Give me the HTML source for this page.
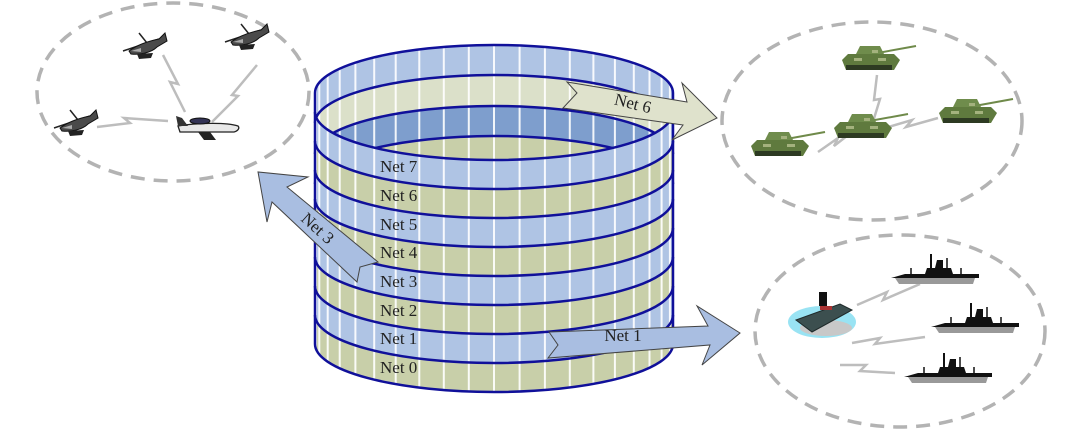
<!DOCTYPE html>
<html><head><meta charset="utf-8"><style>
html,body{margin:0;padding:0;background:#fff;}
svg{display:block;}
text{font-family:"Liberation Serif",serif;}
</style></head><body>
<svg width="1073" height="447" viewBox="0 0 1073 447" xmlns="http://www.w3.org/2000/svg">
<defs>
<clipPath id="sil"><path d="M315,93 A179,48 0 0 1 673,93 L673,344 A179,48 0 0 1 315,344 Z"/></clipPath>
<clipPath id="front"><path d="M315,112 A179,48 0 0 0 673,112 L673,344 A179,48 0 0 1 315,344 Z"/></clipPath>
<g id="stripes" stroke="#fff" stroke-width="2" opacity="0.9">
<line x1="315.9" y1="30" x2="315.9" y2="400"/>
<line x1="319.3" y1="30" x2="319.3" y2="400"/>
<line x1="327.7" y1="30" x2="327.7" y2="400"/>
<line x1="339.7" y1="30" x2="339.7" y2="400"/>
<line x1="355.4" y1="30" x2="355.4" y2="400"/>
<line x1="374.2" y1="30" x2="374.2" y2="400"/>
<line x1="395.7" y1="30" x2="395.7" y2="400"/>
<line x1="419.3" y1="30" x2="419.3" y2="400"/>
<line x1="443.8" y1="30" x2="443.8" y2="400"/>
<line x1="468.8" y1="30" x2="468.8" y2="400"/>
<line x1="494" y1="30" x2="494" y2="400"/>
<line x1="519.6" y1="30" x2="519.6" y2="400"/>
<line x1="544.9" y1="30" x2="544.9" y2="400"/>
<line x1="569.8" y1="30" x2="569.8" y2="400"/>
<line x1="593.4" y1="30" x2="593.4" y2="400"/>
<line x1="614.9" y1="30" x2="614.9" y2="400"/>
<line x1="633.8" y1="30" x2="633.8" y2="400"/>
<line x1="649.5" y1="30" x2="649.5" y2="400"/>
<line x1="661.6" y1="30" x2="661.6" y2="400"/>
<line x1="669.9" y1="30" x2="669.9" y2="400"/>
</g>
<g id="heli">
<line x1="-22" y1="6" x2="14" y2="-6" stroke="#222" stroke-width="1.5"/>
<line x1="-6" y1="-12" x2="2" y2="-2" stroke="#222" stroke-width="1.5"/>
<path d="M-16,6 C-8,0 4,-4 14,-6 L20,-12 L22,-4 L12,2 C6,8 -6,10 -14,9 Z" fill="#4a4a4a" stroke="#111" stroke-width="1"/>
<path d="M-8,9 L-6,14 L6,13 L8,8 Z" fill="#222"/>
<path d="M-14,6 L-4,3 L-4,7 Z" fill="#aaa"/>
</g>
<g id="tank">
<line x1="4" y1="-8" x2="48" y2="-16" stroke="#6f8a4a" stroke-width="2"/>
<path d="M-26,-2 L-20,-8 L26,-8 L32,-2 L26,8 L-22,8 Z" fill="#5f7a3e"/>
<path d="M-12,-8 L-8,-16 L12,-16 L16,-8 Z" fill="#6f8c4c"/>
<rect x="-22" y="3" width="46" height="5" fill="#2d3a22"/>
<path d="M-14,-4 h8 v3 h-8z M4,-12 h6 v3 h-6z M10,-4 h8 v3 h-8z" fill="#a4b27e"/>
</g>
<g id="ship">
<path d="M-40,4 L40,4 L38,10 L-36,10 Z" fill="#999"/>
<path d="M-44,4 L-30,0 L-10,0 L-8,-6 L0,-6 L2,-14 L8,-14 L8,-6 L16,-6 L18,0 L44,0 L44,4 Z" fill="#111"/>
<line x1="-4" y1="-6" x2="-4" y2="-20" stroke="#111" stroke-width="2"/>
<line x1="12" y1="-6" x2="12" y2="-16" stroke="#111" stroke-width="1.5"/>
<line x1="-24" y1="0" x2="-24" y2="-6" stroke="#111" stroke-width="1.5"/>
<line x1="26" y1="0" x2="26" y2="-6" stroke="#111" stroke-width="1.5"/>
</g>
</defs>

<!-- dashed ellipses -->
<g fill="none" stroke="#b3b3b3" stroke-width="3.5" stroke-dasharray="14,9">
<ellipse cx="173" cy="92" rx="136" ry="89"/>
<ellipse cx="872" cy="121" rx="150" ry="99"/>
<ellipse cx="900" cy="331" rx="145" ry="96"/>
</g>

<!-- lightning -->
<g fill="none" stroke="#bdbdbd" stroke-width="2.5">
<polyline points="163,55 178,84 170,82 185,112"/>
<polyline points="257,65 232,95 238,96 212,122"/>
<polyline points="97,127 130,123 124,118 168,121"/>
<polyline points="877,75 874,100 880,99 872,125"/>
<polyline points="818,152 838,138 834,146 852,132"/>
<polyline points="885,128 912,120 906,127 938,118"/>
<polyline points="857,305 887,292 883,300 920,284"/>
<polyline points="852,343 880,338 875,344 925,337"/>
<polyline points="840,365 866,365 860,371 895,373"/>
</g>

<!-- aircraft -->
<use href="#heli" x="145" y="45"/>
<use href="#heli" x="247" y="36"/>
<use href="#heli" x="76" y="122"/>
<g transform="translate(206,128)">
<path d="M-28,-2 C-10,-5 20,-6 32,-2 C34,0 32,3 28,4 L-26,4 Z" fill="#e8e8e8" stroke="#222" stroke-width="1.3"/>
<path d="M-28,-2 L-30,-12 L-24,-10 L-18,-2 Z" fill="#333"/>
<ellipse cx="-6" cy="-7" rx="10" ry="3" fill="#335" stroke="#111"/>
<path d="M-8,4 L-2,12 L10,12 L4,4 Z" fill="#222"/>
</g>

<!-- tanks -->
<use href="#tank" x="868" y="62"/>
<use href="#tank" x="860" y="130"/>
<use href="#tank" x="965" y="115"/>
<use href="#tank" x="777" y="148"/>

<!-- ships -->
<use href="#ship" x="935" y="274"/>
<use href="#ship" x="975" y="323"/>
<use href="#ship" x="948" y="373"/>
<g transform="translate(822,318)">
<ellipse cx="0" cy="4" rx="34" ry="16" fill="#7fdcf0" opacity="0.8"/>
<ellipse cx="4" cy="10" rx="26" ry="8" fill="#c8c8c8"/>
<path d="M-26,2 L18,-14 L30,-8 L-10,14 Z" fill="#3c4f4f" stroke="#1f2a2a"/>
<rect x="-3" y="-26" width="8" height="14" fill="#111"/>
<rect x="-2" y="-12" width="12" height="4" fill="#a33"/>
</g>

<!-- cylinder -->
<g>
<path d="M315,93 A179,48 0 0 1 673,93 L673,344 A179,48 0 0 1 315,344 Z" fill="#c8cfa9"/>
<path d="M315,93 A179,48 0 0 1 673,93 L673,123 A179,48 0 0 0 315,123 Z" fill="#afc4e4"/>
<path d="M315,123 A179,48 0 0 1 673,123 L673,154 A179,48 0 0 0 315,154 Z" fill="#dbe0c9"/>
<path d="M315,154 A179,48 0 0 1 673,154 L673,184 A179,48 0 0 0 315,184 Z" fill="#7e9ecd"/>
<g clip-path="url(#sil)"><use href="#stripes"/></g>
<g fill="none" stroke="#10109a" stroke-width="2.5">
<path d="M315,123 A179,48 0 0 1 673,123"/>
<path d="M315,154 A179,48 0 0 1 673,154"/>
<path d="M315,184 A179,48 0 0 1 673,184"/>
</g>
<!-- front bands -->
<path d="M315,112 A179,48 0 0 0 673,112 L673,141 A179,48 0 0 1 315,141 Z" fill="#afc4e4"/>
<path d="M315,141 A179,48 0 0 0 673,141 L673,170 A179,48 0 0 1 315,170 Z" fill="#c8cfa9"/>
<path d="M315,170 A179,48 0 0 0 673,170 L673,199 A179,48 0 0 1 315,199 Z" fill="#afc4e4"/>
<path d="M315,199 A179,48 0 0 0 673,199 L673,228 A179,48 0 0 1 315,228 Z" fill="#c8cfa9"/>
<path d="M315,228 A179,48 0 0 0 673,228 L673,257 A179,48 0 0 1 315,257 Z" fill="#afc4e4"/>
<path d="M315,257 A179,48 0 0 0 673,257 L673,286 A179,48 0 0 1 315,286 Z" fill="#c8cfa9"/>
<path d="M315,286 A179,48 0 0 0 673,286 L673,315 A179,48 0 0 1 315,315 Z" fill="#afc4e4"/>
<path d="M315,315 A179,48 0 0 0 673,315 L673,344 A179,48 0 0 1 315,344 Z" fill="#c8cfa9"/>
<g clip-path="url(#front)"><use href="#stripes"/></g>
<g fill="none" stroke="#10109a" stroke-width="2.5">
<path d="M315,93 A179,48 0 0 1 673,93"/>
<path d="M315,112 A179,48 0 0 0 673,112"/>
<path d="M315,141 A179,48 0 0 0 673,141"/>
<path d="M315,170 A179,48 0 0 0 673,170"/>
<path d="M315,199 A179,48 0 0 0 673,199"/>
<path d="M315,228 A179,48 0 0 0 673,228"/>
<path d="M315,257 A179,48 0 0 0 673,257"/>
<path d="M315,286 A179,48 0 0 0 673,286"/>
<path d="M315,315 A179,48 0 0 0 673,315"/>
<path d="M315,344 A179,48 0 0 0 673,344"/>
<line x1="315" y1="93" x2="315" y2="344"/>
<line x1="673" y1="93" x2="673" y2="344"/>
</g>
<g font-size="17" fill="#222">
<text x="380" y="172">Net 7</text>
<text x="380" y="201">Net 6</text>
<text x="380" y="230">Net 5</text>
<text x="380" y="258">Net 4</text>
<text x="380" y="287">Net 3</text>
<text x="380" y="316">Net 2</text>
<text x="380" y="344">Net 1</text>
<text x="380" y="373">Net 0</text>
</g>
</g>

<!-- arrows -->
<path d="M567,82 L687,102 L682,83 L717,118 L672,140 L683,125 L563,108 L577,93 Z" fill="#dfe2cc" stroke="#444" stroke-width="1"/>
<text x="633" y="109" font-size="17" fill="#222" text-anchor="middle" transform="rotate(14 633 103)">Net 6</text>

<path d="M549,332 L708,326 L697,306 L740,333 L702,365 L710,345 L548,358 L558,345 Z" fill="#a9bee1" stroke="#444" stroke-width="1"/>
<text x="623" y="341" font-size="17" fill="#222" text-anchor="middle">Net 1</text>

<path d="M378,262 L287,187 L308,177 L258,172 L267,222 L272,202 L357,282 L360,267 Z" fill="#a9bee1" stroke="#444" stroke-width="1"/>
<text x="318" y="234" font-size="17" fill="#222" text-anchor="middle" transform="rotate(42 318 228)">Net 3</text>
</svg>
</body></html>
